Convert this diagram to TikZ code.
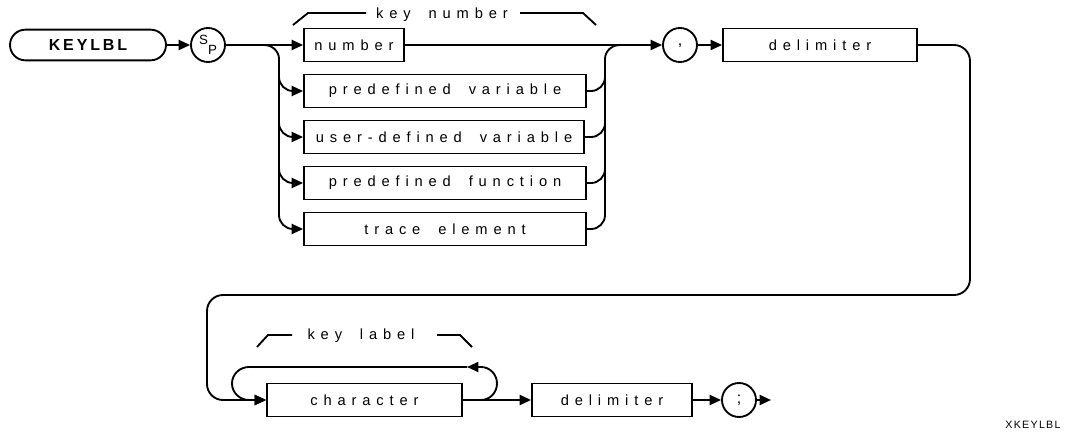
\documentclass[tikz,border=0pt]{standalone}
\usepackage{fontspec}
\setmainfont{Liberation Sans}
\newfontfamily\plotfont[LetterSpace=40,WordSpace=1.8]{Liberation Sans}
\newfontfamily\kwfont[LetterSpace=18]{Liberation Sans}
\newfontfamily\xfont[LetterSpace=12]{Liberation Sans}
\usetikzlibrary{arrows.meta,shapes.misc,calc}
\begin{document}
\begin{tikzpicture}[x=0.75pt,y=-0.75pt,line width=1.4pt,
  box/.style={draw,rectangle,minimum height=24.75pt,inner sep=0pt,font=\plotfont\fontsize{11}{13}\selectfont},
  kwbox/.style={draw,rounded rectangle,minimum width=117pt,minimum height=23pt,inner sep=0pt,font=\kwfont\bfseries\fontsize{12}{14}\selectfont},
  circ/.style={draw,circle,minimum size=25.5pt,inner sep=0pt,font=\fontsize{12}{14}\selectfont},
  arr/.style={-{Triangle[length=8.5pt,width=7.5pt]}},
  lbl/.style={inner sep=1pt,font=\plotfont\fontsize{11}{13}\selectfont},
  brk/.style={line width=1.4pt}]
\useasboundingbox (0,0) rectangle (1079,438);

% nodes
\node[kwbox] (kw) at (88,45) {KEYLBL};
\node[circ] (sp) at (208,45) {\fontsize{10}{12}\selectfont\raisebox{3pt}{S}\raisebox{-4pt}{P}};
\node[box,minimum width=75pt] (num) at (354,45) {number};
\node[box,minimum width=211.5pt] (pv) at (445,91) {predefined variable};
\node[box,minimum width=210pt] (uv) at (444,137) {user-defined variable};
\node[box,minimum width=211.5pt] (pf) at (445,183) {predefined function};
\node[box,minimum width=211.5pt] (te) at (445,229) {trace element};
\node[circ] (cm) at (680,45) {\raisebox{-2pt}{,}};
\node[box,minimum width=145.5pt] (d1) at (820,45) {delimiter};
\node[box,minimum width=146.25pt] (ch) at (364.5,400) {character};
\node[box,minimum width=120pt] (d2) at (612,400) {delimiter};
\node[circ] (sc) at (739,400) {;};
\coordinate (end) at (771,400);

\node[lbl] (kn) at (442,15) {key number};
\node[lbl] (kl) at (361,336) {key label};
\node[font=\xfont\fontsize{8}{10}\selectfont] (xk) at (1033,425) {XKEYLBL};

% brackets
\draw[brk] (293,25) -- (308,13) -- (366,13);
\draw[brk] (520,13) -- (583,13) -- (596,25);
\draw[brk] (257,347) -- (268,335) -- (292,335);
\draw[brk] (437,335) -- (460,335) -- (472,347);

% main line
\draw[arr] (kw) -- (sp);
\draw[arr] (sp) -- (num);

% left branch
\coordinate (lx) at (279,0);
\draw (264,45) to[out=0,in=90] (279,59) -- (279,215);
\foreach \n in {pv,uv,pf,te}{
  \draw[arr] ($(lx |- \n.west)+(0,-14)$) to[out=-90,in=180] ($(lx |- \n.west)+(14,0)$) -- (\n.west);
}

% right merge
\coordinate (rx) at (605,0);
\draw (605,215) -- (605,59) to[out=90,in=180] (620,45);
\foreach \n in {pv,uv,pf,te}{
  \draw (\n.east) -- ($(rx |- \n.east)+(-14,0)$) to[out=0,in=-90] ($(rx |- \n.east)+(0,-14)$);
}

\draw[arr] (num) -- (cm);
\draw[arr] (cm) -- (d1);
\draw[arr,rounded corners=12pt] (d1.east) -- (970,45) -- (970,295) -- (207,295) -- (207,400) -- (ch.west);

% loop
\coordinate (la) at (467,367);
\draw[arr] (481,400) to[out=0,in=-90] (497,383.5) to[out=90,in=0] (481,367) -- (la);
\draw[arr] (la) -- (249,367) to[out=180,in=90] (232,383.5) to[out=-90,in=180] (249,400) -- (ch.west);

\draw[arr] (ch) -- (d2);
\draw[arr] (d2) -- (sc);
\draw[arr] (sc) -- (end);
\end{tikzpicture}
\end{document}
